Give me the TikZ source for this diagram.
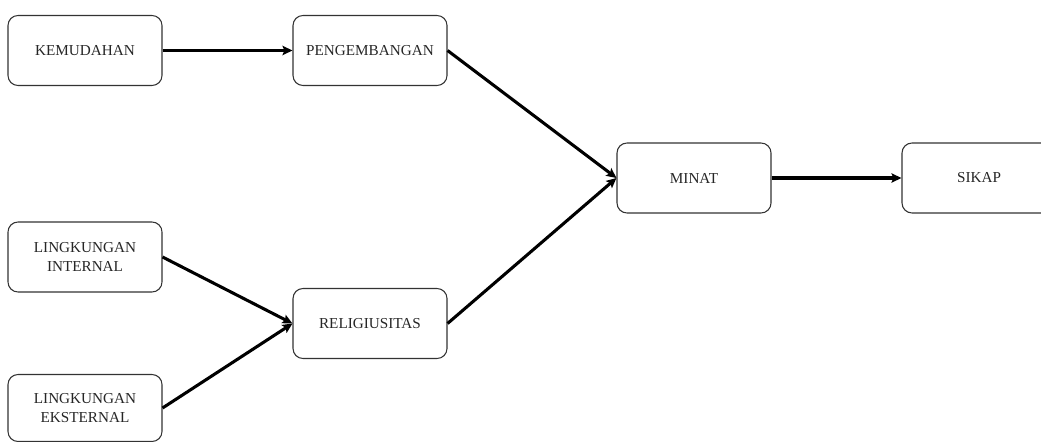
\documentclass[tikz,border=0pt]{standalone}
\usepackage{fontspec}
\setmainfont{Liberation Serif}
\usetikzlibrary{arrows.meta}
\begin{document}
\begin{tikzpicture}[x=0.75pt,y=-0.75pt,
  box/.style={draw=black!80, line width=0.8pt, rounded corners=7.5pt, minimum width=154*0.75pt, minimum height=70*0.75pt, align=center, inner sep=0pt, font=\fontsize{11.4}{14.2}\selectfont, text=black!85},
  conn/.style={line width=2.3pt, -{Stealth[length=7.5pt,width=7pt,inset=1.5pt]}}]
\useasboundingbox (0,0) rectangle (1041,442);
\clip (0,0) rectangle (1041,442);
\node[box] (kem) at (85,50.5) {KEMUDAHAN};
\node[box] (pen) at (370,50.5) {PENGEMBANGAN};
\node[box] (min) at (694,178) {MINAT};
\node[box] (sik) at (979,178) {SIKAP};
\node[box] (lin) at (85,257) {LINGKUNGAN\\INTERNAL};
\node[box] (rel) at (370,323.5) {RELIGIUSITAS};
\node[box, minimum height=67*0.75pt] (eks) at (85,408) {LINGKUNGAN\\EKSTERNAL};
\draw[conn] (kem.east) -- (pen.west);
\draw[conn] (pen.east) -- (min.west);
\draw[conn] (rel.east) -- (min.west);
\draw[conn] (min.east) -- (sik.west);
\draw[conn] (lin.east) -- (rel.west);
\draw[conn] (eks.east) -- (rel.west);
\end{tikzpicture}
\end{document}
